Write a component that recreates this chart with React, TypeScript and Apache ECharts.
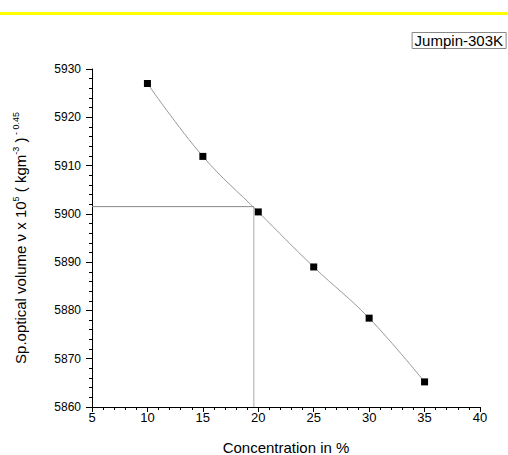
import React, { useEffect, useRef } from "react";
import * as echarts from "echarts";

const concentrations = [10, 15, 20, 25, 30, 35];
const volumes = [5927.0, 5911.9, 5900.4, 5889.0, 5878.4, 5865.2];
const refX = 19.6;
const refY = 5901.5;
const xTicks = { min: 5, max: 40, interval: 5 };
const yTicks = { min: 5860, max: 5930, interval: 10 };
const legendLabel = "Jumpin-303K";

export default function App() {
  const ref = useRef<HTMLDivElement>(null);
  useEffect(() => {
    if (!ref.current) return;
    const chart = echarts.init(ref.current, null, { renderer: "svg" });
    const font = "Liberation Sans, Arial, sans-serif";
    chart.setOption({
      animation: false,
      backgroundColor: "#fff",
      textStyle: { fontFamily: font },
      title: {
        text: legendLabel,
        right: 2,
        top: 32,
        padding: [1, 3, 1, 3],
        borderColor: "#888",
        borderWidth: 1,
        textStyle: { fontFamily: font, fontSize: 15, fontWeight: "normal", color: "#000" },
      },
      graphic: [
        { type: "rect", shape: { x: 0, y: 12, width: 508, height: 3 }, style: { fill: "#FFFF00" } },
      ],
      grid: { left: 92, right: 28, top: 69, bottom: 48, outerBoundsMode: "none", containLabel: false },
      xAxis: {
        type: "value",
        min: xTicks.min,
        max: xTicks.max,
        interval: xTicks.interval,
        name: "Concentration in %",
        nameLocation: "middle",
        nameGap: 33,
        nameTextStyle: { fontFamily: font, fontSize: 15, lineHeight: 15, color: "#000" },
        axisLine: { lineStyle: { color: "#000", width: 1 } },
        axisTick: { show: true, inside: false, length: 5, lineStyle: { color: "#000" } },
        minorTick: { show: true, splitNumber: 5, length: 3, lineStyle: { color: "#000" } },
        axisLabel: { fontFamily: font, fontSize: 13, color: "#000", margin: 4 },
        splitLine: { show: false },
      },
      yAxis: {
        type: "value",
        min: yTicks.min,
        max: yTicks.max,
        interval: yTicks.interval,
        name:
          "{a|Sp.optical volume ν x 10}{sup|5}{a| ( kgm}{sup|-3}{a| )}{sup| - 0.45}",
        nameLocation: "middle",
        nameGap: 64,
        nameTextStyle: {
          fontFamily: font,
          color: "#000",
          rich: {
            a: { fontFamily: font, fontSize: 15, color: "#000", lineHeight: 17, verticalAlign: "bottom" },
            sup: { fontFamily: font, fontSize: 9, color: "#000", lineHeight: 17, verticalAlign: "top" },
          },
        },
        axisLine: { show: true, lineStyle: { color: "#000", width: 1 } },
        axisTick: { show: true, inside: false, length: 6, lineStyle: { color: "#000" } },
        minorTick: { show: true, splitNumber: 5, length: 3, lineStyle: { color: "#000" } },
        axisLabel: {
          fontFamily: font,
          fontSize: 12,
          color: "#000",
          margin: 11,
          formatter: (v: number) => String(v),
        },
        splitLine: { show: false },
      },
      series: [
        {
          type: "line",
          data: [
            [xTicks.min, refY],
            [refX, refY],
          ],
          symbol: "none",
          lineStyle: { color: "#888", width: 1 },
          z: 1,
        },
        {
          type: "line",
          data: [
            [refX, refY],
            [refX, yTicks.min],
          ],
          symbol: "none",
          lineStyle: { color: "#aaa", width: 1 },
          z: 1,
        },
        {
          type: "line",
          data: concentrations.map((c, i) => [c, volumes[i]]),
          smooth: 0.4,
          symbol: "rect",
          symbolSize: 7,
          itemStyle: { color: "#000" },
          lineStyle: { color: "#999", width: 1 },
          z: 3,
        },
      ],
    });
    return () => chart.dispose();
  }, []);
  return (
    <div
      ref={ref}
      style={{ position: "absolute", left: 0, top: 0, width: 508, height: 455 }}
    />
  );
}
